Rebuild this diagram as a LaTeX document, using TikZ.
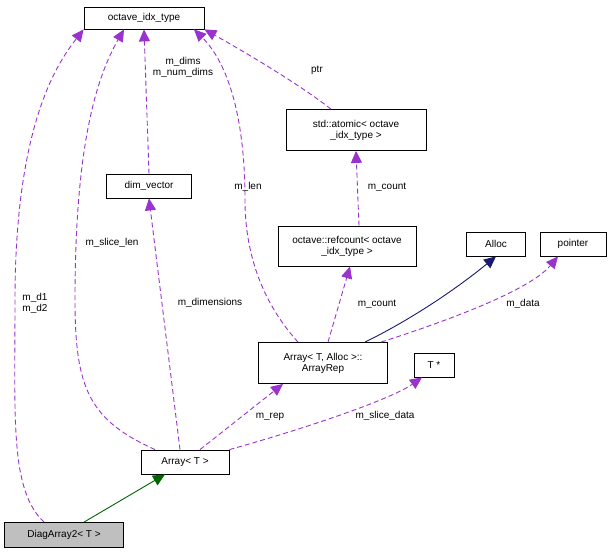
\documentclass[tikz,border=0pt]{standalone}
\usepackage{fontspec}
\setmainfont{Liberation Sans}
\usetikzlibrary{arrows.meta,positioning}
\definecolor{member}{HTML}{9A32CD}
\definecolor{inherit}{HTML}{006400}
\definecolor{templ}{HTML}{191970}
\tikzset{
  cls/.style={draw=black,line width=0.8pt,fill=white,inner sep=2pt,minimum height=24pt,align=center,font=\fontsize{10}{11}\selectfont},
  used/.style={draw=member,line width=0.9pt,dash pattern=on 5pt off 3pt,-{Triangle[length=12pt,width=11pt]},fill=none},
  isa/.style={draw=inherit,line width=0.9pt,-{Triangle[length=12pt,width=11pt]}},
  tpl/.style={draw=templ,line width=0.9pt,-{Triangle[length=12pt,width=11pt]}},
  lbl/.style={font=\fontsize{10}{11}\selectfont,align=center,inner sep=1pt}
}
\begin{document}
\begin{tikzpicture}[x=1pt,y=-1pt]
  \useasboundingbox (0,0) rectangle (610,556);
  % classes
  \node[cls,minimum width=120pt,minimum height=22pt] (idx) at (144,18) {octave\_idx\_type};
  \node[cls,minimum width=85pt] (dims) at (149,186) {dim\_vector};
  \node[cls,minimum width=140pt,minimum height=41pt] (atomic) at (356,130) {std::atomic\textless{} octave\\\_idx\_type \textgreater};
  \node[cls,minimum width=138pt,minimum height=40pt] (refc) at (347,246) {octave::refcount\textless{} octave\\\_idx\_type \textgreater};
  \node[cls,minimum width=59pt] (alloc) at (496,244) {Alloc};
  \node[cls,minimum width=66pt] (ptr) at (573,244) {pointer};
  \node[cls,minimum width=129pt,minimum height=41pt] (rep) at (323,363) {Array\textless{} T, Alloc \textgreater::\\ArrayRep};
  \node[cls,minimum width=40pt] (tptr) at (434,365) {T *};
  \node[cls,minimum width=88pt] (arr) at (185,462) {Array\textless{} T \textgreater};
  \node[cls,minimum width=119pt,minimum height=25pt,fill=black!25] (diag) at (64,535) {DiagArray2\textless{} T \textgreater};
  % members
  \draw[used] (diag.north) ++(-20,0) .. controls (10,490) and (15,420) .. (15,300)
    .. controls (15,120) and (60,60) .. (idx.south west);
  \node[lbl] (l1) at (35,303) {m\_d1\\m\_d2};
  \draw[used] (arr.north) ++(-30,0) .. controls (90,420) and (75,390) .. (75,300)
    .. controls (75,150) and (95,80) .. ([xshift=-20pt]idx.south);
  \node[lbl] (l2) at (112,243) {m\_slice\_len};
  \draw[used] ([xshift=-5pt]arr.north) -- (dims.south);
  \node[lbl] (l3) at (210,303) {m\_dimensions};
  \draw[used] (dims.north) -- (idx.south);
  \node[lbl] (l4) at (183,67) {m\_dims\\m\_num\_dims};
  \draw[used] ([xshift=-25pt]rep.north) .. controls (260,300) and (245,250) .. (245,200)
    .. controls (245,110) and (225,60) .. ([xshift=50pt]idx.south);
  \node[lbl] (l5) at (248,187) {m\_len};
  \draw[used] ([xshift=-25pt]atomic.north) .. controls (300,85) and (250,55) .. (idx.south east);
  \node[lbl] (l6) at (317,70) {ptr};
  \draw[used] (refc.north) ++(12,0) -- (atomic.south);
  \node[lbl] (l7) at (387,187) {m\_count};
  \draw[used] ([xshift=5pt]rep.north) -- ([xshift=3pt]refc.south);
  \node[lbl] (l8) at (377,304) {m\_count};
  \draw[tpl] ([xshift=42pt]rep.north) .. controls (410,320) and (455,290) .. (alloc.south);
  \draw[used] ([xshift=58pt]rep.north) .. controls (450,320) and (530,290) .. ([xshift=-15pt]ptr.south);
  \node[lbl] (l9) at (523,304) {m\_data};
  \draw[used] ([xshift=15pt]arr.north) -- ([xshift=-40pt]rep.south);
  \node[lbl] (l10) at (270,417) {m\_rep};
  \draw[used] (arr.north east) .. controls (300,430) and (390,400) .. ([xshift=-12pt]tptr.south);
  \node[lbl] (l11) at (385,416) {m\_slice\_data};
  % inheritance
  \draw[isa] ([xshift=20pt]diag.north) -- ([xshift=-20pt]arr.south);
\end{tikzpicture}
\end{document}
